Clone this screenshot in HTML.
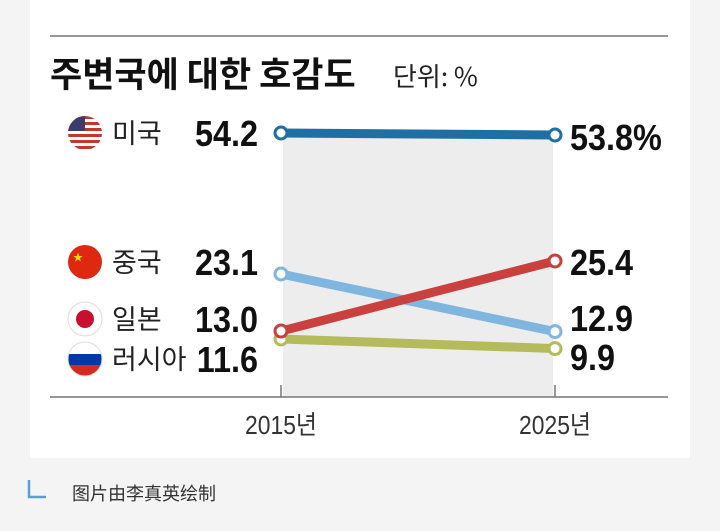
<!DOCTYPE html>
<html><head><meta charset="utf-8"><style>
body{margin:0;width:720px;height:531px;background:#f4f4f4;overflow:hidden;font-family:"Liberation Sans","Noto Sans CJK KR",sans-serif;}
</style></head><body>
<svg width="720" height="531" style="position:absolute;left:0;top:0">
<defs>
<clipPath id="fc0"><circle cx="85" cy="133" r="17"/></clipPath>
<clipPath id="fc3"><circle cx="85" cy="359" r="17"/></clipPath>
</defs>
<rect x="30" y="0" width="660" height="458" fill="#fff"/>
<line x1="50" y1="36" x2="668" y2="36" stroke="#777" stroke-width="1.5"/>
<text x="50" y="87" font-size="35" font-weight="bold" fill="#111" font-family="'Noto Sans CJK KR',sans-serif">주변국에 대한 호감도</text>
<text x="393" y="86" font-size="26" fill="#222" font-family="'Noto Sans CJK KR',sans-serif">단위: %</text>
<g id="plot"></g>
<line x1="50" y1="397" x2="668" y2="397" stroke="#777" stroke-width="1.5"/>
<path d="M29 480 V497 H46" fill="none" stroke="#5aa0cf" stroke-width="2.5"/>
<text x="72" y="500" font-size="18" fill="#333" font-family="'Noto Sans CJK SC',sans-serif">图片由李真英绘制</text>
</svg>
<script>
const years=["2015년","2025년"];
const countries=["미국","중국","일본","러시아"];
const labels2015=["54.2","23.1","13.0","11.6"];
const labels2025=["53.8%","25.4","12.9","9.9"];
const usVals=[54.2,53.8];
const chinaVals=[13.0,25.4];
const japanVals=[23.1,12.9];
const russiaVals=[11.6,9.9];
const NS="http://www.w3.org/2000/svg";
const g=document.getElementById('plot');
function xs(i){return 281+i*274;}
function ys(v){return v>40?133+(54.2-v)*5:404.5-5.65*v;}
function mk(t,a,p){const e=document.createElementNS(NS,t);for(const k in a)e.setAttribute(k,a[k]);(p||g).appendChild(e);return e;}
const bg=mk('rect',{x:283,y:135,width:270,height:262,fill:'#ededed'});


years.forEach((y,i)=>{
 const tk=mk('line',{x1:xs(i),y1:385,x2:xs(i),y2:397,stroke:'#777','stroke-width':1.5});
 
 
 const t=mk('text',{x:0,y:0,transform:`translate(${xs(i)},434) scale(0.88,1)`,'font-size':26,'text-anchor':'middle',fill:'#333','font-family':"'Liberation Sans','Noto Sans CJK KR',sans-serif"});
 t.textContent=y;
 
 
});
[[russiaVals,'#b3bb5a','russia'],[japanVals,'#7fb6df','japan'],[chinaVals,'#c9403f','china'],[usVals,'#1f6fa5','us']].forEach(([vals,c,n])=>{
 const l=mk('line',{x1:xs(0),y1:ys(vals[0]),x2:xs(1),y2:ys(vals[1]),stroke:c,'stroke-width':9});
 
 
 vals.forEach((v,i)=>{
  const p=mk('circle',{cx:xs(i),cy:ys(v),r:6,fill:'#fff',stroke:c,'stroke-width':3});
  
  
 });
});
const rowY=[133,262,319,359];
const rightY=[137,262,318,357];
const narrow="'Liberation Sans',sans-serif";
countries.forEach((c,i)=>{
 const y=rowY[i];
 const fg=mk('g',{});
 
 
 if(i===0){const cg=mk('g',{'clip-path':'url(#fc0)'},fg);mk('rect',{x:66,y:y-18,width:38,height:36,fill:'#fff'},cg);for(let k=0;k<6;k++)mk('rect',{x:66,y:y-17+k*6,width:38,height:3,fill:'#c0392b'},cg);mk('rect',{x:66,y:y-18,width:19,height:16,fill:'#3c3b6e'},cg);}
 else if(i===1){mk('circle',{cx:85,cy:y,r:17,fill:'#de2910'},fg);mk('text',{x:73,y:y-1,'font-size':10,fill:'#ffde00'},fg).textContent='★';}
 else if(i===2){mk('circle',{cx:85,cy:y,r:17,fill:'#fff',stroke:'#ddd'},fg);mk('circle',{cx:85,cy:y,r:9,fill:'#c8102e'},fg);}
 else {const cg=mk('g',{'clip-path':'url(#fc3)'},fg);mk('rect',{x:66,y:y-18,width:38,height:36,fill:'#fff'},cg);mk('rect',{x:66,y:y-5,width:38,height:11,fill:'#0039a6'},cg);mk('rect',{x:66,y:y+6,width:38,height:12,fill:'#d52b1e'},cg);mk('circle',{cx:85,cy:y,r:17,fill:'none',stroke:'#ddd'},fg);}
 const t=mk('text',{x:112,y:y+10,'font-size':27,fill:'#222','font-family':"'Noto Sans CJK KR',sans-serif"});
 t.textContent=c;
 
 
 const v=mk('text',{x:0,y:0,transform:`translate(258,${y+13}) scale(0.9,1)`,'font-size':36,'font-weight':'bold','text-anchor':'end',fill:'#111','font-family':narrow});
 v.textContent=labels2015[i];
 
 
 const r=mk('text',{x:0,y:0,transform:`translate(570,${rightY[i]+13}) scale(0.9,1)`,'font-size':36,'font-weight':'bold',fill:'#111','font-family':narrow});
 r.textContent=labels2025[i];
 
 
});
g.insertBefore(bg,g.firstChild);
</script>
</body></html>
